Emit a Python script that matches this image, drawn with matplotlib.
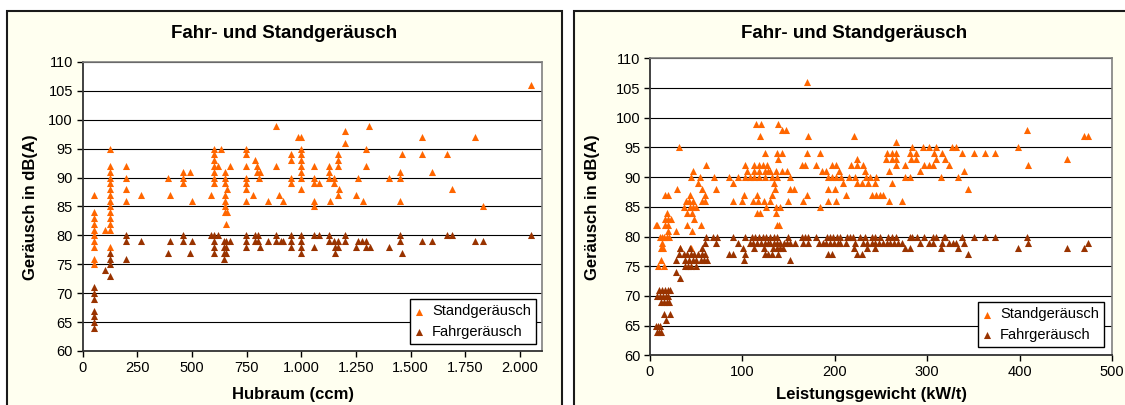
import matplotlib
matplotlib.use("Agg")
import matplotlib.pyplot as plt
from matplotlib.patches import Rectangle
from matplotlib.ticker import FuncFormatter, MultipleLocator

plt.rcParams["font.family"] = ["Liberation Sans", "DejaVu Sans"]

# Hubraum (ccm) vs. noise level
hub_stand = [
    (50, 87), (50, 84), (50, 83), (50, 82), (50, 81), (50, 80), (50, 79), (50, 78), (50, 76), (50, 75),
    (100, 81),
    (125, 95), (125, 92), (125, 91), (125, 90), (125, 89), (125, 88), (125, 87), (125, 86), (125, 85),
    (125, 84), (125, 83), (125, 82), (125, 81), (125, 78),
    (200, 92), (200, 90), (200, 88), (200, 86), (265, 87), (390, 90), (400, 87),
    (460, 91), (460, 90), (460, 89), (490, 91), (500, 86), (585, 87),
    (600, 95), (600, 94), (600, 93), (600, 92), (600, 91), (600, 90), (600, 89), (618, 92), (635, 95),
    (650, 91), (650, 90), (650, 89), (650, 87), (650, 86), (650, 85), (650, 84),
    (658, 88), (658, 84), (655, 82), (675, 92),
    (748, 95), (748, 94), (748, 92), (748, 90), (748, 89), (748, 88), (748, 86), (778, 87),
    (790, 93), (798, 92), (798, 91), (805, 90), (810, 91), (847, 86), (885, 99), (885, 92), (896, 87), (916, 86),
    (953, 94), (953, 93), (953, 90), (953, 89), (985, 97),
    (1000, 97), (1000, 95), (1000, 94), (1000, 93), (1000, 92), (1000, 91), (1000, 90), (1000, 88),
    (1060, 92), (1060, 90), (1060, 89), (1060, 86), (1060, 85), (1082, 89),
    (1128, 92), (1128, 91), (1128, 90), (1131, 86), (1150, 90), (1150, 89),
    (1166, 94), (1166, 93), (1166, 92), (1172, 88), (1166, 87), (1200, 98), (1200, 96),
    (1250, 87), (1260, 90), (1283, 86), (1298, 95), (1298, 92), (1311, 99), (1402, 90),
    (1451, 91), (1451, 90), (1451, 86), (1460, 94), (1554, 97), (1554, 94), (1600, 91),
    (1668, 94), (1691, 88), (1794, 97), (1832, 85), (2050, 106),
]
hub_fahr = [
    (50, 71), (50, 70), (50, 69), (50, 67), (50, 66), (50, 65), (50, 64), (100, 74),
    (125, 77), (125, 76), (125, 75), (125, 73),
    (200, 80), (200, 79), (200, 76), (265, 79), (390, 77), (400, 79), (460, 80), (460, 79),
    (490, 77), (500, 79), (585, 80), (600, 80), (600, 79), (600, 78), (600, 77), (618, 80),
    (645, 79), (645, 78), (645, 77), (645, 76), (655, 79), (655, 78), (655, 77), (675, 79),
    (748, 80), (748, 79), (748, 78), (790, 80), (790, 79), (800, 80), (800, 79), (810, 78),
    (847, 79), (885, 80), (885, 79), (905, 79), (916, 79), (953, 80), (953, 79), (953, 78),
    (1000, 80), (1000, 79), (1000, 78), (1000, 77), (1060, 80), (1060, 78), (1082, 80),
    (1128, 80), (1128, 79), (1150, 79), (1155, 78), (1155, 77), (1166, 79), (1166, 78),
    (1200, 80), (1200, 79), (1250, 78), (1261, 79), (1280, 79), (1298, 79), (1298, 78), (1313, 78),
    (1402, 78), (1451, 80), (1451, 79), (1460, 77), (1554, 79), (1600, 79), (1668, 80),
    (1691, 80), (1794, 79), (1832, 79), (2050, 80),
]

# Leistungsgewicht (kW/t) vs. noise level
lg_stand = [
    (6, 82), (8, 82), (9, 75), (15, 75), (12, 76), (11, 80), (13, 80), (15, 80), (18, 80), (21, 80),
    (13, 79), (12, 78), (14, 78), (16, 82), (19, 82), (20, 81), (28, 81), (45, 81),
    (16, 83), (19, 83), (23, 83), (18, 84), (40, 84), (45, 84), (16, 87), (19, 87), (29, 88), (31, 95),
    (37, 85), (43, 85), (47, 85), (50, 85), (39, 86), (42, 86), (46, 86), (56, 86), (60, 86),
    (43, 87), (60, 87), (44, 90), (54, 90), (52, 89), (56, 88), (47, 91), (61, 92), (69, 90), (71, 88),
    (40, 82), (55, 82), (48, 83), (32, 78), (44, 78),
    (90, 89), (86, 90), (95, 90), (103, 92), (105, 91), (103, 90), (90, 86), (100, 86), (102, 87),
    (113, 92), (118, 92), (122, 92), (127, 92), (113, 91), (118, 91), (124, 91), (128, 91),
    (108, 90), (113, 90), (118, 90), (125, 90), (112, 86), (117, 86), (123, 86),
    (116, 87), (116, 84), (119, 84), (126, 85), (115, 99), (120, 99), (119, 97), (125, 94),
    (170, 106), (139, 99), (143, 98), (147, 98), (171, 97), (221, 97), (266, 96),
    (284, 95), (295, 95), (302, 95), (310, 95),
    (137, 94), (143, 94), (170, 94), (184, 94), (257, 94), (262, 94), (266, 94), (281, 94), (288, 94),
    (307, 94), (316, 94),
    (139, 93), (224, 93), (255, 93), (262, 93), (266, 93), (283, 93), (288, 93), (309, 93),
    (164, 92), (168, 92), (180, 92), (197, 92), (201, 92), (218, 92), (224, 92), (231, 92), (266, 92),
    (276, 92), (296, 92), (302, 92), (306, 92),
    (130, 91), (136, 91), (143, 91), (148, 91), (186, 91), (190, 91), (205, 91), (233, 91), (259, 91),
    (292, 91),
    (132, 90), (137, 90), (151, 90), (193, 90), (197, 90), (201, 90), (207, 90), (215, 90), (222, 90),
    (234, 90), (238, 90), (245, 90), (276, 90), (281, 90), (315, 90),
    (134, 89), (209, 89), (224, 89), (229, 89), (236, 89), (244, 89), (262, 89),
    (135, 88), (152, 88), (156, 88), (193, 88), (200, 88),
    (132, 87), (170, 87), (212, 87), (240, 87), (245, 87), (249, 87), (252, 87),
    (130, 86), (149, 86), (166, 86), (193, 86), (201, 86), (259, 86), (273, 86),
    (136, 85), (141, 85), (184, 85), (136, 84), (137, 82), (140, 82),
    (408, 98), (470, 97), (474, 97), (327, 95), (331, 95), (398, 95), (338, 94), (351, 94), (363, 94),
    (373, 94), (319, 93), (451, 93), (324, 92), (409, 92), (340, 91), (333, 90), (344, 88),
]
lg_fahr = [
    (6, 65), (9, 65), (11, 65), (8, 64), (10, 64), (12, 64), (15, 67), (22, 67), (17, 66),
    (12, 69), (15, 69), (18, 69), (21, 69), (8, 70), (11, 70), (14, 70), (17, 70), (20, 70),
    (10, 71), (13, 71), (16, 71), (19, 71), (22, 71), (28, 74), (33, 73), (28, 76), (31, 77), (32, 78),
    (38, 75), (41, 75), (44, 75), (50, 75), (38, 76), (42, 76), (46, 76), (50, 76), (55, 76), (58, 76),
    (62, 76), (37, 77), (40, 77), (44, 77), (48, 77), (52, 77), (56, 77), (59, 77), (43, 78), (56, 78),
    (61, 80), (68, 80), (72, 80), (60, 79), (71, 79), (86, 77), (90, 77),
    (90, 80), (95, 79), (101, 78), (103, 80), (103, 77), (102, 76),
    (110, 80), (114, 80), (118, 80), (122, 80), (126, 80), (108, 79), (112, 79), (116, 79), (120, 79),
    (124, 79), (128, 79), (113, 78), (123, 78), (125, 77), (128, 77),
    (130, 80), (134, 80), (137, 80), (149, 80), (164, 80), (168, 80), (171, 80), (180, 80), (192, 80),
    (195, 80), (198, 80), (202, 80), (206, 80), (213, 80), (216, 80), (220, 80), (227, 80), (233, 80),
    (240, 80), (244, 80), (249, 80), (258, 80), (262, 80), (266, 80), (281, 80), (284, 80), (289, 80),
    (296, 80), (306, 80), (310, 80), (318, 80),
    (130, 79), (134, 79), (137, 79), (141, 79), (145, 79), (148, 79), (152, 79), (157, 79), (166, 79),
    (171, 79), (183, 79), (187, 79), (191, 79), (195, 79), (199, 79), (203, 79), (206, 79), (212, 79),
    (222, 79), (231, 79), (235, 79), (240, 79), (244, 79), (248, 79), (252, 79), (256, 79), (260, 79),
    (264, 79), (268, 79), (273, 79), (292, 79), (302, 79), (306, 79), (316, 79),
    (133, 78), (137, 78), (141, 78), (144, 78), (221, 78), (235, 78), (244, 78), (276, 78), (281, 78),
    (315, 78), (132, 77), (138, 77), (193, 77), (197, 77), (224, 77), (229, 77), (151, 76),
    (319, 80), (338, 80), (351, 80), (363, 80), (373, 80), (408, 80),
    (324, 79), (328, 79), (331, 79), (340, 79), (409, 79), (474, 79),
    (333, 78), (398, 78), (451, 78), (470, 78), (344, 77),
]

title = "Fahr- und Standgeräusch"
ylabel = "Geräusch in dB(A)"
orange = "#FF6600"
brown = "#993300"

W, H = 1125, 405
fig = plt.figure(figsize=(W / 100, H / 100), dpi=100, facecolor="white")


def px(x0, y0, x1, y1):
    return [x0 / W, 1 - y1 / H, (x1 - x0) / W, (y1 - y0) / H]


# chart frames
for x0, x1 in [(7, 562), (574, 1140)]:
    fig.add_artist(Rectangle((x0 / W, -0.1), (x1 - x0) / W, 1.1 - 11 / H, transform=fig.transFigure,
                             facecolor="#FFFFF0", edgecolor="#1a1a1a", linewidth=1.5, zorder=0))

german = FuncFormatter(lambda v, _: f"{int(round(v)):,}".replace(",", "."))

panels = [
    (px(82.7, 62, 541.7, 351), hub_stand, hub_fahr, (0, 2100), 250, "Hubraum (ccm)",
     284.5, 31, 293, 395, (0.988, 0.024)),
    (px(650, 58.4, 1112, 355.4), lg_stand, lg_fahr, (0, 500), 100, "Leistungsgewicht (kW/t)",
     854, 592, 872, 394, (0.983, 0.028)),
]

for rect, stand, fahr, xlim, xstep, xlabel, tx, ylx, xlx, xly, leg_anchor in panels:
    ax = fig.add_axes(rect)
    ax.set_facecolor("white")
    ax.scatter([p[0] for p in stand], [p[1] for p in stand], marker="^", s=26, color=orange,
               linewidths=0, label="Standgeräusch", zorder=3, clip_on=False)
    ax.scatter([p[0] for p in fahr], [p[1] for p in fahr], marker="^", s=26, color=brown,
               linewidths=0, label="Fahrgeräusch", zorder=3, clip_on=False)
    ax.set_xlim(*xlim)
    ax.set_ylim(60, 110)
    ax.xaxis.set_major_locator(MultipleLocator(xstep))
    ax.yaxis.set_major_locator(MultipleLocator(5))
    ax.xaxis.set_major_formatter(german)
    ax.grid(axis="y", color="black", linewidth=0.8)
    ax.set_axisbelow(True)
    ax.tick_params(direction="out", length=4, width=1, labelsize=10.5, colors="black", pad=3)
    for side in ("left", "bottom"):
        ax.spines[side].set_color("#333333")
        ax.spines[side].set_linewidth(1.3)
    for side in ("top", "right"):
        ax.spines[side].set_color("#808080")
        ax.spines[side].set_linewidth(1.2)
    leg = ax.legend(loc="lower right", bbox_to_anchor=leg_anchor, borderaxespad=0, fontsize=10.5,
                    frameon=True, fancybox=False, edgecolor="black", framealpha=1,
                    handlelength=0.6, handletextpad=0.6, labelspacing=0.45, borderpad=0.35,
                    scatterpoints=1)
    leg.get_frame().set_linewidth(1.0)
    fig.text(tx / W, 1 - 33 / H, title, ha="center", va="center", fontsize=13.5, fontweight="bold")
    fig.text(ylx / W, 1 - 207 / H, ylabel, ha="center", va="center", rotation=90,
             fontsize=12, fontweight="bold")
    fig.text(xlx / W, 1 - xly / H, xlabel, ha="center", va="center", fontsize=12, fontweight="bold")

fig.savefig("out.png", dpi=100, facecolor="white")
